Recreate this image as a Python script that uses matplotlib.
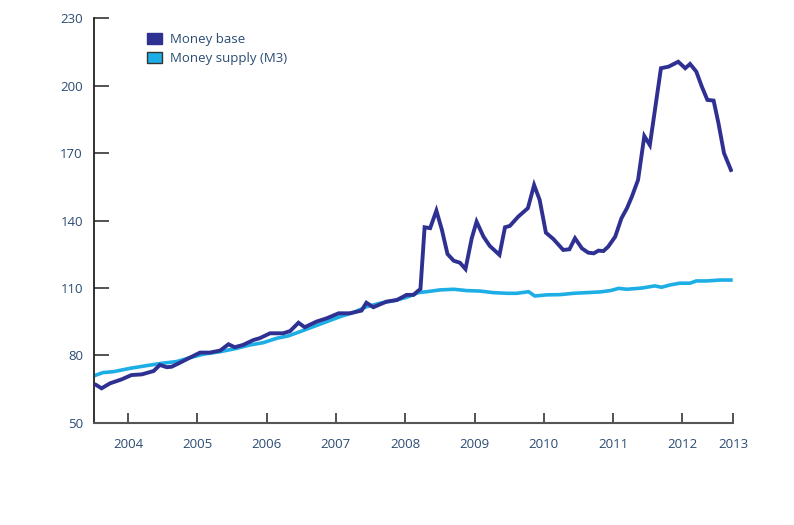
import numpy as np
import matplotlib
matplotlib.use('Agg')
import matplotlib.pyplot as plt
from matplotlib.patches import Patch

# Money base (decimal year, index)
baseDates = [2003.54, 2003.62, 2003.74, 2003.91, 2004.05, 2004.20, 2004.37, 2004.46, 2004.56,
             2004.63, 2004.75, 2004.89, 2005.04, 2005.18, 2005.33, 2005.45, 2005.54, 2005.66,
             2005.81, 2005.90, 2006.05, 2006.24, 2006.34, 2006.46, 2006.55, 2006.72, 2006.87,
             2007.04, 2007.20, 2007.37, 2007.44, 2007.54, 2007.73, 2007.88, 2008.02, 2008.12,
             2008.19, 2008.22, 2008.28, 2008.36, 2008.45, 2008.53, 2008.61, 2008.70, 2008.79,
             2008.87, 2008.96, 2009.03, 2009.13, 2009.22, 2009.36, 2009.44, 2009.51, 2009.63,
             2009.77, 2009.86, 2009.94, 2010.03, 2010.14, 2010.28, 2010.37, 2010.45, 2010.55,
             2010.64, 2010.72, 2010.79, 2010.86, 2010.93, 2011.03, 2011.12, 2011.20, 2011.27,
             2011.36, 2011.45, 2011.53, 2011.61, 2011.69, 2011.80, 2011.94, 2012.04, 2012.11,
             2012.20, 2012.28, 2012.36, 2012.45, 2012.52, 2012.60, 2012.70]
baseValues = [66.8, 65.3, 67.5, 69.3, 71.2, 71.5, 73.0, 75.7, 74.7,
              74.9, 76.7, 78.9, 81.2, 81.2, 82.1, 84.9, 83.6, 84.6,
              86.8, 87.6, 89.8, 89.8, 90.8, 94.5, 92.5, 95.0, 96.5,
              98.7, 98.7, 99.9, 103.4, 101.4, 103.9, 104.6, 106.9, 106.9,
              108.8, 109.5, 137.0, 136.6, 144.4, 135.8, 125.1, 122.1, 121.2,
              118.4, 132.1, 139.5, 132.8, 128.7, 124.7, 137.0, 137.6, 141.7,
              145.5, 155.8, 149.2, 134.6, 131.7, 126.9, 127.2, 132.1, 127.6,
              125.7, 125.4, 126.6, 126.4, 128.4, 132.8, 141.0, 145.5, 150.6,
              158.1, 177.6, 173.6, 190.7, 207.8, 208.5, 210.7, 207.8, 209.7,
              206.3, 199.6, 193.7, 193.4, 183.3, 170.0, 162.5]

# Money supply (M3)
m3Dates = [2003.54, 2003.64, 2003.79, 2004.03, 2004.27, 2004.48, 2004.70, 2004.89, 2005.09,
           2005.33, 2005.57, 2005.76, 2005.95, 2006.15, 2006.31, 2006.48, 2006.67, 2006.87,
           2007.06, 2007.25, 2007.44, 2007.64, 2007.83, 2008.02, 2008.19, 2008.31, 2008.50,
           2008.70, 2008.89, 2009.08, 2009.27, 2009.47, 2009.61, 2009.78, 2009.87, 2010.04,
           2010.23, 2010.43, 2010.62, 2010.81, 2010.96, 2011.08, 2011.20, 2011.36, 2011.43,
           2011.60, 2011.70, 2011.82, 2011.96, 2012.11, 2012.20, 2012.35, 2012.54, 2012.70]
m3Values = [71.2, 72.3, 72.7, 74.2, 75.4, 76.4, 77.2, 78.9, 80.5,
            81.6, 83.1, 84.6, 85.6, 87.6, 88.6, 90.5, 92.7, 95.0,
            97.2, 99.0, 101.6, 103.2, 104.3, 105.8, 107.9, 108.3, 109.1,
            109.4, 108.8, 108.6, 107.9, 107.6, 107.6, 108.3, 106.4, 106.9,
            107.0, 107.6, 107.9, 108.2, 108.8, 109.8, 109.4, 109.8, 110.0,
            110.9, 110.3, 111.3, 112.1, 112.1, 113.1, 113.1, 113.5, 113.5]

yearTicks = [2004, 2005, 2006, 2007, 2008, 2009, 2010, 2011, 2012, 2012.73]
yearLabels = ['2004', '2005', '2006', '2007', '2008', '2009', '2010', '2011', '2012', '2013']
yTicks = [50, 80, 110, 140, 170, 200, 230]

baseColor = '#2e3192'
m3Color = '#1eaee6'
textColor = '#2b4c73'

plt.rcParams['font.family'] = ['Open Sans', 'DejaVu Sans']

fig = plt.figure(figsize=(7.94, 5.25), dpi=100)
ax = fig.add_axes([0.1184, 0.1949, 0.8048, 0.7701])

ax.plot(m3Dates, m3Values, color=m3Color, lw=2.6, solid_joinstyle='miter', zorder=2)
ax.plot(baseDates, baseValues, color=baseColor, lw=2.8, solid_joinstyle='miter', zorder=3)

ax.set_xlim(2003.51, 2012.73)
ax.set_ylim(50, 230)
ax.set_xticks(yearTicks)
ax.set_xticklabels(yearLabels)
ax.set_yticks(yTicks)

for side in ['top', 'right']:
    ax.spines[side].set_visible(False)
ax.spines['left'].set_color('#222222')
ax.spines['left'].set_linewidth(1.3)
ax.spines['bottom'].set_color('#555555')
ax.spines['bottom'].set_linewidth(1.5)

ax.tick_params(axis='x', direction='in', length=7, width=1.3, color='#444444',
               pad=11, labelsize=9.5, labelcolor=textColor)
ax.tick_params(axis='y', direction='in', length=10.5, width=1.3, color='#444444',
               pad=8, labelsize=9.5, labelcolor=textColor)

handles = [Patch(facecolor=baseColor, edgecolor=baseColor, label='Money base'),
           Patch(facecolor=m3Color, edgecolor='#333333', lw=1, label='Money supply (M3)')]
leg = ax.legend(handles=handles, loc='upper left', bbox_to_anchor=(0.073, 0.98),
                frameon=False, borderpad=0, fontsize=9.5, handlelength=1.15,
                handleheight=0.85, handletextpad=0.6, labelspacing=0.45)
for t in leg.get_texts():
    t.set_color(textColor)

fig.savefig('out.png', dpi=100)
